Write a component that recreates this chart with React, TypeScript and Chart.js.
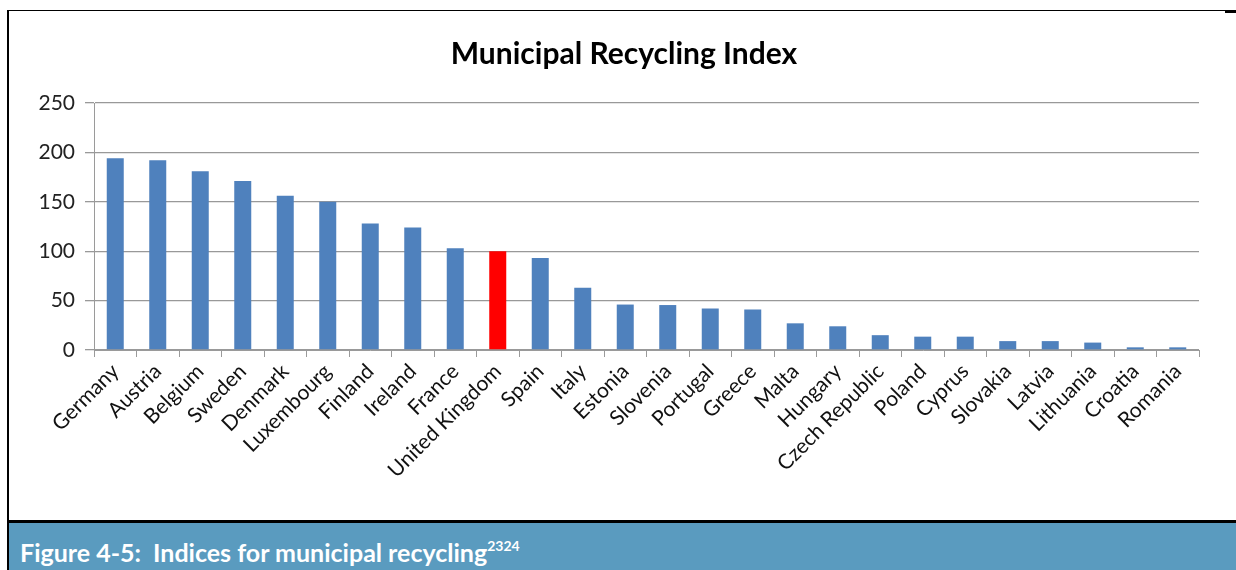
import React, { useEffect, useRef } from "react";
import { Chart, registerables } from "chart.js";

Chart.register(...registerables);

const categories: string[] = [
  "Germany", "Austria", "Belgium", "Sweden", "Denmark", "Luxembourg", "Finland",
  "Ireland", "France", "United Kingdom", "Spain", "Italy", "Estonia", "Slovenia",
  "Portugal", "Greece", "Malta", "Hungary", "Czech Republic", "Poland", "Cyprus",
  "Slovakia", "Latvia", "Lithuania", "Croatia", "Romania",
];

const indexValues: number[] = [
  194, 192, 181, 171, 156, 150, 128, 124, 103, 100, 93, 63, 46, 45.5,
  42, 41, 27, 24, 15, 13.5, 13.5, 9, 9, 7.5, 2.7, 2.7,
];

const highlighted = "United Kingdom";
const yTicks: number[] = [0, 50, 100, 150, 200, 250];

const chartTitle = "Municipal Recycling Index";
const captionText = "Figure 4-5:  Indices for municipal recycling";
const captionSup = "2324";

export default function App() {
  const ref = useRef<HTMLCanvasElement | null>(null);

  useEffect(() => {
    if (!ref.current) return;
    const chart = new Chart(ref.current, {
      type: "bar",
      data: {
        labels: categories,
        datasets: [
          {
            data: indexValues,
            backgroundColor: categories.map((c) => (c === highlighted ? "#FF0000" : "#4F81BD")),
            barPercentage: 0.4,
            categoryPercentage: 1,
          },
        ],
      },
      options: {
        animation: false,
        responsive: false,
        maintainAspectRatio: false,
        layout: { padding: { left: 0, right: 27, top: 91, bottom: 0 } },
        plugins: {
          legend: { display: false },
          tooltip: { enabled: false },
          title: { display: false },
        },
        scales: {
          x: {
            afterFit: (scale: any) => {
              scale.height = 169;
            },
            grid: {
              offset: true,
              drawOnChartArea: false,
              drawTicks: true,
              tickLength: 7,
              color: "#9a9a9a",
            },
            border: { display: true, color: "#9a9a9a", width: 1 },
            ticks: {
              autoSkip: false,
              maxRotation: 45,
              minRotation: 45,
              color: "#111",
              font: { family: "Lato", size: 21 },
              padding: 2,
            },
          },
          y: {
            min: 0,
            max: 250,
            afterBuildTicks: (scale: any) => {
              scale.ticks = yTicks.map((v) => ({ value: v }));
            },
            afterFit: (scale: any) => {
              scale.width = 84;
            },
            grid: {
              color: "#999",
              lineWidth: 1.3,
              drawTicks: true,
              tickLength: 9,
            },
            border: { display: true, color: "#9a9a9a", width: 1 },
            ticks: {
              color: "#222",
              font: { family: "Lato", size: 21 },
              padding: 10,
            },
          },
        },
      },
    });
    return () => chart.destroy();
  }, []);

  return (
    <div style={{ position: "absolute", left: 0, top: 0, width: 1236, height: 570, background: "#fff", overflow: "hidden" }}>
      <div style={{ position: "absolute", left: 7, top: 10, width: 2, height: 560, background: "#000" }} />
      <div style={{ position: "absolute", left: 8, top: 10, width: 1220, height: 1, background: "#000" }} />
      <div style={{ position: "absolute", left: 1225, top: 10, width: 11, height: 3, background: "#000" }} />
      <canvas
        ref={ref}
        width={1216}
        height={507}
        style={{ position: "absolute", left: 10, top: 12, width: 1216, height: 507 }}
      />
      <div
        style={{
          position: "absolute",
          left: 324,
          top: 34,
          width: 600,
          height: 36,
          lineHeight: "36px",
          textAlign: "center",
          fontFamily: "Lato",
          fontWeight: "bold",
          fontSize: 30,
          color: "#000",
        }}
      >
        {chartTitle}
      </div>
      <div style={{ position: "absolute", left: 9, top: 520, width: 1227, height: 3, background: "#000" }} />
      <div
        style={{
          position: "absolute",
          left: 9,
          top: 523,
          width: 1227,
          height: 47,
          background: "#5A9BBF",
          color: "#fff",
          fontFamily: "Lato",
          fontWeight: "bold",
          fontSize: 25,
          lineHeight: "30px",
          boxSizing: "border-box",
          paddingLeft: 11,
          paddingTop: 10,
          whiteSpace: "pre",
        }}
      >
        {captionText}
        <sup style={{ fontSize: 14, position: "relative", top: -2 }}>{captionSup}</sup>
      </div>
    </div>
  );
}
